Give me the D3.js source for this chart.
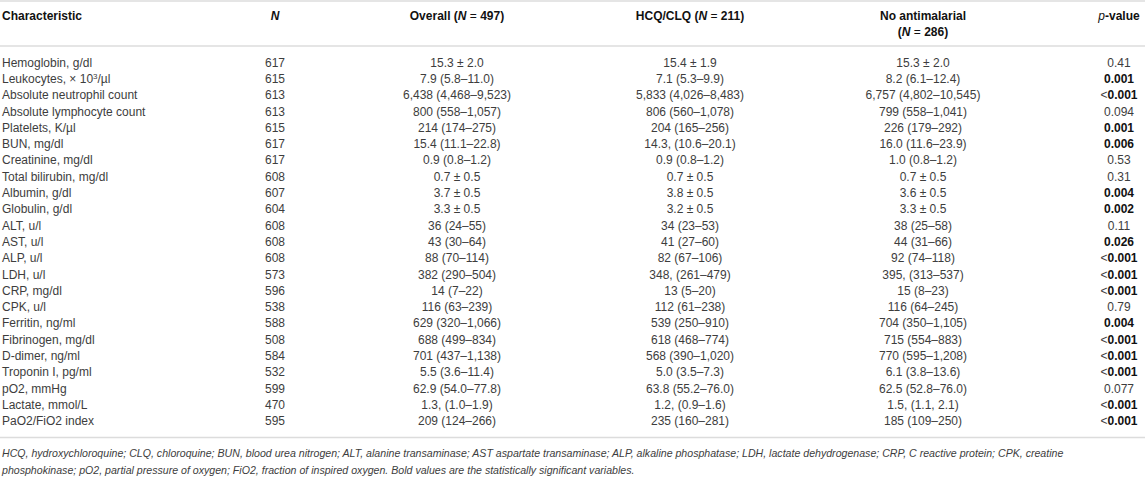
<!DOCTYPE html>
<html>
<head>
<meta charset="utf-8">
<script src="https://cdn.jsdelivr.net/npm/d3@7"></script>
<style>
  html, body { margin: 0; padding: 0; background: #fff; }
  svg { display: block; font-family: "Liberation Sans", Arial, Helvetica, sans-serif; }
</style>
</head>
<body>
<svg id="chart" width="1145" height="481"></svg>
<script>
// ---- data ----
const characteristics = [
  "Hemoglobin, g/dl", "Leukocytes, × 10|3|/µl", "Absolute neutrophil count", "Absolute lymphocyte count",
  "Platelets, K/µl", "BUN, mg/dl", "Creatinine, mg/dl", "Total bilirubin, mg/dl", "Albumin, g/dl",
  "Globulin, g/dl", "ALT, u/l", "AST, u/l", "ALP, u/l", "LDH, u/l", "CRP, mg/dl", "CPK, u/l",
  "Ferritin, ng/ml", "Fibrinogen, mg/dl", "D-dimer, ng/ml", "Troponin I, pg/ml", "pO2, mmHg",
  "Lactate, mmol/L", "PaO2/FiO2 index"
];
const nValues = ["617","615","613","613","615","617","617","608","607","604","608","608","608","573","596","538","588","508","584","532","599","470","595"];
const overallValues = [
  "15.3 ± 2.0", "7.9 (5.8–11.0)", "6,438 (4,468–9,523)", "800 (558–1,057)", "214 (174–275)",
  "15.4 (11.1–22.8)", "0.9 (0.8–1.2)", "0.7 ± 0.5", "3.7 ± 0.5", "3.3 ± 0.5", "36 (24–55)",
  "43 (30–64)", "88 (70–114)", "382 (290–504)", "14 (7–22)", "116 (63–239)", "629 (320–1,066)",
  "688 (499–834)", "701 (437–1,138)", "5.5 (3.6–11.4)", "62.9 (54.0–77.8)", "1.3, (1.0–1.9)", "209 (124–266)"
];
const hcqValues = [
  "15.4 ± 1.9", "7.1 (5.3–9.9)", "5,833 (4,026–8,483)", "806 (560–1,078)", "204 (165–256)",
  "14.3, (10.6–20.1)", "0.9 (0.8–1.2)", "0.7 ± 0.5", "3.8 ± 0.5", "3.2 ± 0.5", "34 (23–53)",
  "41 (27–60)", "82 (67–106)", "348, (261–479)", "13 (5–20)", "112 (61–238)", "539 (250–910)",
  "618 (468–774)", "568 (390–1,020)", "5.0 (3.5–7.3)", "63.8 (55.2–76.0)", "1.2, (0.9–1.6)", "235 (160–281)"
];
const noAntimalarialValues = [
  "15.3 ± 2.0", "8.2 (6.1–12.4)", "6,757 (4,802–10,545)", "799 (558–1,041)", "226 (179–292)",
  "16.0 (11.6–23.9)", "1.0 (0.8–1.2)", "0.7 ± 0.5", "3.6 ± 0.5", "3.3 ± 0.5", "38 (25–58)",
  "44 (31–66)", "92 (74–118)", "395, (313–537)", "15 (8–23)", "116 (64–245)", "704 (350–1,105)",
  "715 (554–883)", "770 (595–1,208)", "6.1 (3.8–13.6)", "62.5 (52.8–76.0)", "1.5, (1.1, 2.1)", "185 (109–250)"
];
const pValues = ["0.41","0.001","<0.001","0.094","0.001","0.006","0.53","0.31","0.004","0.002","0.11","0.026","<0.001","<0.001","<0.001","0.79","0.004","<0.001","<0.001","<0.001","0.077","<0.001","<0.001"];
const columnKeys = ["char", "n", "overall", "hcq", "none", "p"];
const footnoteLines = [
  "HCQ, hydroxychloroquine; CLQ, chloroquine; BUN, blood urea nitrogen; ALT, alanine transaminase; AST aspartate transaminase; ALP, alkaline phosphatase; LDH, lactate dehydrogenase; CRP, C reactive protein; CPK, creatine",
  "phosphokinase; pO2, partial pressure of oxygen; FiO2, fraction of inspired oxygen. Bold values are the statistically significant variables."
];

// ---- layout ----
const W = 1145;
const svg = d3.select("#chart");
const textColor = "#3d3d3d";
const lineColor = "#dcdcdc";
const fs = 12;

const xPos = d3.scaleOrdinal().domain(columnKeys).range([2, 275, 457, 690, 923, 1119]);
const rowIdx = d3.range(characteristics.length);
const y = d3.scaleBand().domain(rowIdx).range([54.5, 54.5 + 16.3 * characteristics.length]).padding(0);

// lines
const headerTop = 1, headerBottom = 46, tableBottom = y.range()[1] + 8;
svg.selectAll("line.rule").data([headerTop, headerBottom, tableBottom]).join("line")
  .attr("class", "rule")
  .attr("x1", 0).attr("x2", W).attr("y1", d => d).attr("y2", d => d)
  .attr("stroke", lineColor).attr("stroke-width", 1.5);

// header
const hdr = svg.append("g").attr("fill", "#111").attr("font-size", fs).attr("font-weight", "bold");
function headerText(col, yy, parts, anchor) {
  const t = hdr.append("text").attr("x", xPos(col)).attr("y", yy).attr("text-anchor", anchor || "middle");
  parts.forEach(p => {
    const s = t.append("tspan").text(p.t);
    if (p.i) s.attr("font-style", "italic");
    if (p.n) s.attr("font-weight", "normal");
  });
}
headerText("char", 20, [{t: "Characteristic"}], "start");
headerText("n", 20, [{t: "N", i: true}]);
headerText("overall", 20, [{t: "Overall ("}, {t: "N", i: true}, {t: " = ", n: true}, {t: "497)"}]);
headerText("hcq", 20, [{t: "HCQ/CLQ ("}, {t: "N", i: true}, {t: " = ", n: true}, {t: "211)"}]);
headerText("none", 20, [{t: "No antimalarial"}]);
headerText("none", 36, [{t: "("}, {t: "N", i: true}, {t: " = ", n: true}, {t: "286)"}]);
headerText("p", 20, [{t: "p", i: true, n: true}, {t: "-value"}]);

// body rows
const rows = rowIdx.map(i => ({
  i, char: characteristics[i], n: nValues[i], overall: overallValues[i],
  hcq: hcqValues[i], none: noAntimalarialValues[i], p: pValues[i]
}));
const body = svg.append("g").attr("font-size", fs).attr("fill", textColor);
const rowG = body.selectAll("g.row").data(rows).join("g")
  .attr("class", "row")
  .attr("transform", d => `translate(0,${y(d.i) + y.bandwidth() / 2 + 4})`);

// characteristic (with superscript marker |..|)
rowG.append("text").attr("x", xPos("char")).attr("text-anchor", "start")
  .each(function(d) {
    const parts = d.char.split("|");
    const t = d3.select(this);
    parts.forEach((p, k) => {
      const s = t.append("tspan").text(p);
      if (k === 1) s.attr("font-size", 8).attr("dy", -4);
      if (k === 2) s.attr("dy", 4);
    });
  });

["n", "overall", "hcq", "none"].forEach(col => {
  rowG.append("text").attr("x", xPos(col)).attr("text-anchor", "middle").text(d => d[col]);
});

rowG.append("text").attr("x", xPos("p")).attr("text-anchor", "middle")
  .each(function(d) {
    const t = d3.select(this);
    const num = parseFloat(d.p.replace("<", ""));
    const sig = num < 0.05;
    if (d.p.startsWith("<")) t.append("tspan").text("<");
    t.append("tspan").text(d.p.replace("<", ""))
      .attr("font-weight", sig ? "bold" : "normal")
      .attr("fill", sig ? "#111" : textColor);
  });

// footnote
svg.append("g").attr("font-size", 10.6).attr("font-style", "italic").attr("fill", textColor)
  .selectAll("text").data(footnoteLines).join("text")
  .attr("x", 2).attr("y", (d, i) => tableBottom + 20 + i * 17)
  .text(d => d);
</script>
</body>
</html>
